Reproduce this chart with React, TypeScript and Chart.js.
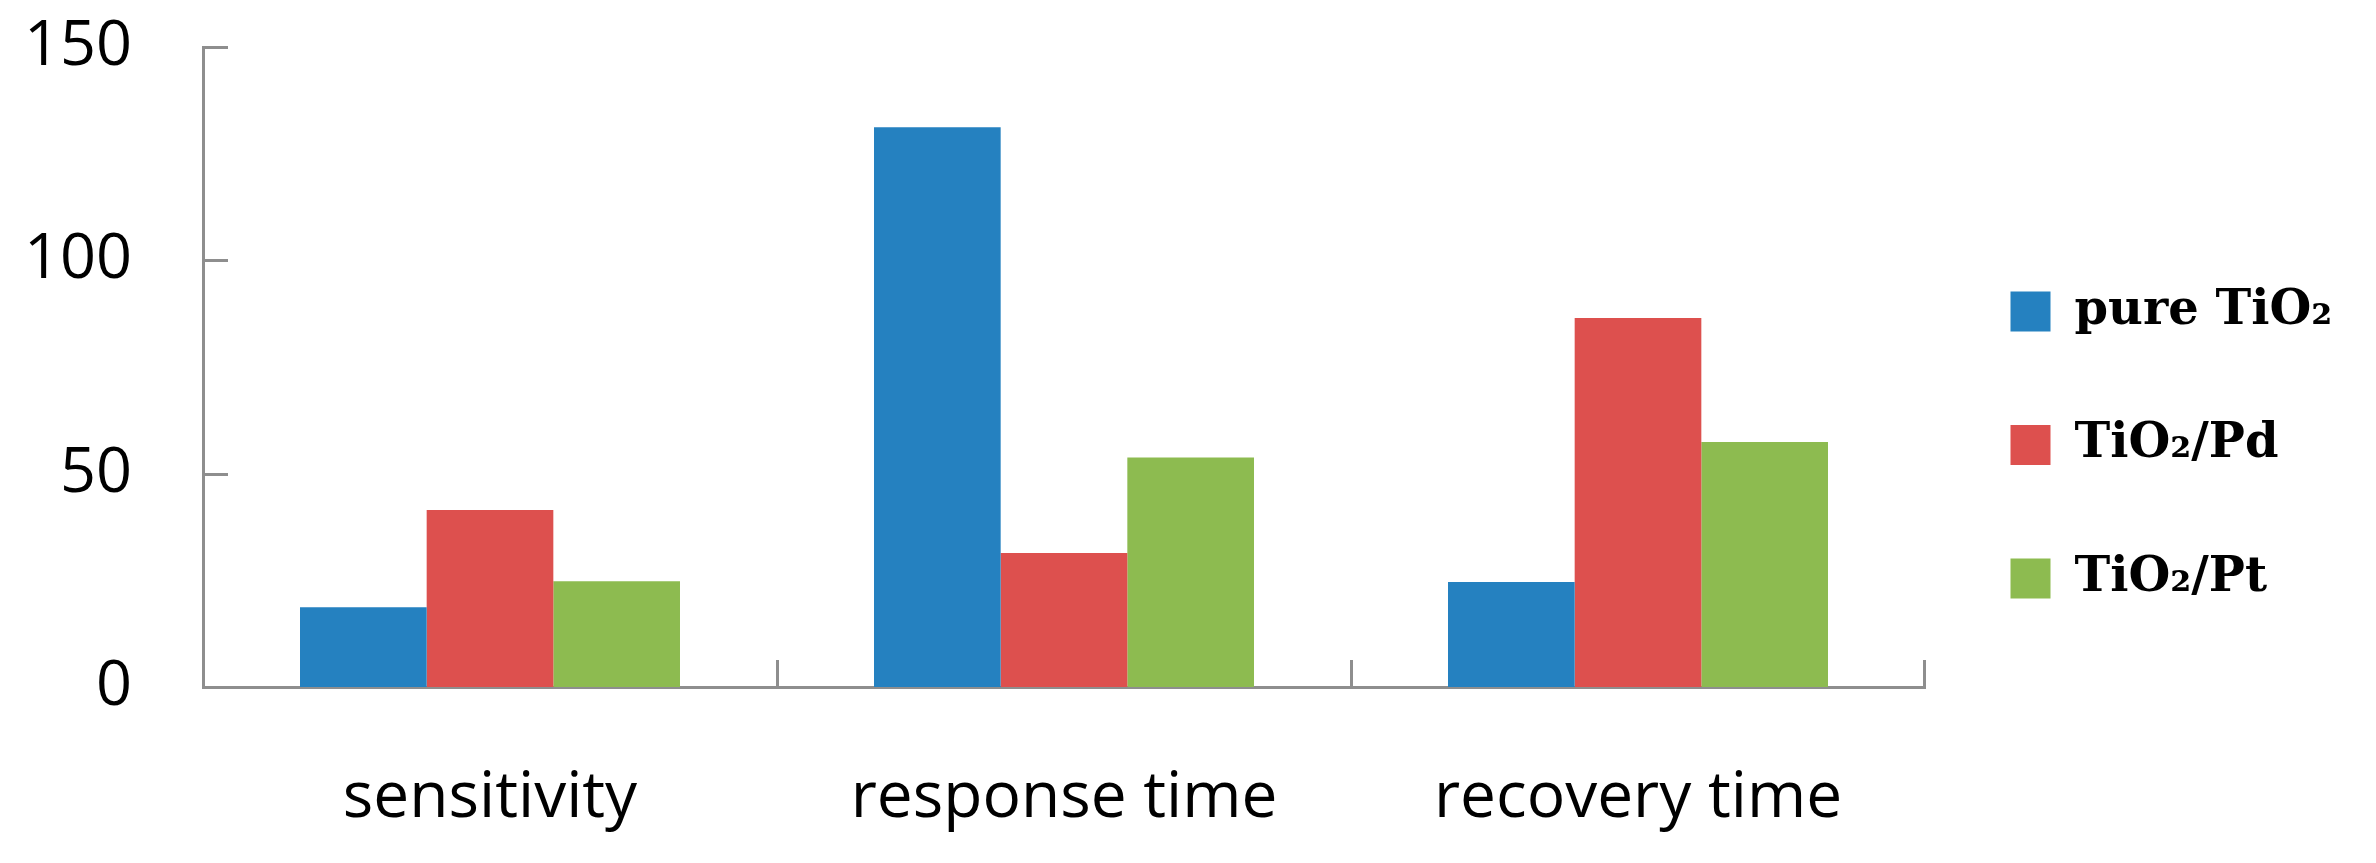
import React, { useEffect, useRef } from 'react';
import { Chart, registerables } from 'chart.js';

Chart.register(...registerables);

const categories = ['sensitivity', 'response time', 'recovery time'];
const seriesNames = ['pure TiO₂', 'TiO₂/Pd', 'TiO₂/Pt'];
const pureTiO2 = [18.7, 131.2, 24.6];
const tiO2Pd = [41.5, 31.4, 86.5];
const tiO2Pt = [24.8, 53.8, 57.4];
const yTicks = [0, 50, 100, 150];
const seriesColors = ['#2581C0', '#DD504E', '#8DBB50'];

const AXIS_COLOR = '#8E8E8E';

const tickMarks = {
  id: 'tickMarks',
  afterDatasetsDraw(chart: any) {
    const { ctx, chartArea } = chart;
    const x = chart.scales.x;
    const y = chart.scales.y;
    ctx.save();
    ctx.strokeStyle = AXIS_COLOR;
    ctx.lineWidth = 3;
    ctx.beginPath();
    y.ticks.forEach((t: any) => {
      if (t.value === 0) return;
      const py = Math.round(y.getPixelForValue(t.value)) + 0.5;
      ctx.moveTo(chartArea.left, py);
      ctx.lineTo(chartArea.left + 25, py);
    });
    const n = x.ticks.length;
    for (let i = 1; i <= n; i++) {
      const px =
        i < n
          ? Math.round((x.getPixelForTick(i - 1) + x.getPixelForTick(i)) / 2) + 0.5
          : Math.round(chartArea.right) - 0.5;
      ctx.moveTo(px, chartArea.bottom);
      ctx.lineTo(px, chartArea.bottom - 27);
    }
    ctx.stroke();
    ctx.restore();
  },
};

export default function App() {
  const canvasRef = useRef<HTMLCanvasElement | null>(null);

  useEffect(() => {
    document.body.style.margin = '0';
    document.body.style.overflow = 'hidden';
    const canvas = canvasRef.current;
    if (!canvas) return;
    const chart = new Chart(canvas, {
      type: 'bar',
      data: {
        labels: categories,
        datasets: [
          { label: seriesNames[0], data: pureTiO2, backgroundColor: seriesColors[0], borderWidth: 0 },
          { label: seriesNames[1], data: tiO2Pd, backgroundColor: seriesColors[1], borderWidth: 0 },
          { label: seriesNames[2], data: tiO2Pt, backgroundColor: seriesColors[2], borderWidth: 0 },
        ],
      },
      options: {
        responsive: false,
        animation: false,
        devicePixelRatio: 1,
        layout: { padding: { top: 47, bottom: 20, left: 0, right: 0 } },
        datasets: { bar: { categoryPercentage: 0.662, barPercentage: 1 } },
        plugins: {
          tooltip: { enabled: false },
          legend: {
            position: 'right',
            maxWidth: 418,
            labels: {
              boxWidth: 40,
              boxHeight: 40,
              padding: 85.5,
              color: '#000',
              font: { family: 'DejaVu Serif', weight: 'bold', size: 48 },
            },
          },
        },
        scales: {
          x: {
            grid: { display: false, drawTicks: false },
            border: { display: true, color: AXIS_COLOR, width: 3 },
            ticks: {
              color: '#000',
              padding: 73,
              font: { family: 'Open Sans', size: 64 },
            },
            afterFit: (s: any) => {
              s.height = 156;
              s.paddingLeft = 0;
              s.paddingRight = 451;
            },
          },
          y: {
            min: 0,
            max: 150,
            afterBuildTicks: (s: any) => {
              s.ticks = yTicks.map((v) => ({ value: v }));
            },
            grid: { display: false, drawTicks: false },
            border: { display: true, color: AXIS_COLOR, width: 3 },
            ticks: {
              color: '#000',
              padding: 71,
              font: { family: 'Open Sans', size: 63 },
            },
            afterFit: (s: any) => {
              s.width = 203;
              s.paddingTop = 0;
              s.paddingBottom = 0;
            },
          },
        },
      } as any,
      plugins: [tickMarks],
    });
    return () => chart.destroy();
  }, []);

  return (
    <div style={{ width: 2376, height: 863, background: '#fff' }}>
      <canvas ref={canvasRef} width={2376} height={863} style={{ display: 'block' }} />
    </div>
  );
}
